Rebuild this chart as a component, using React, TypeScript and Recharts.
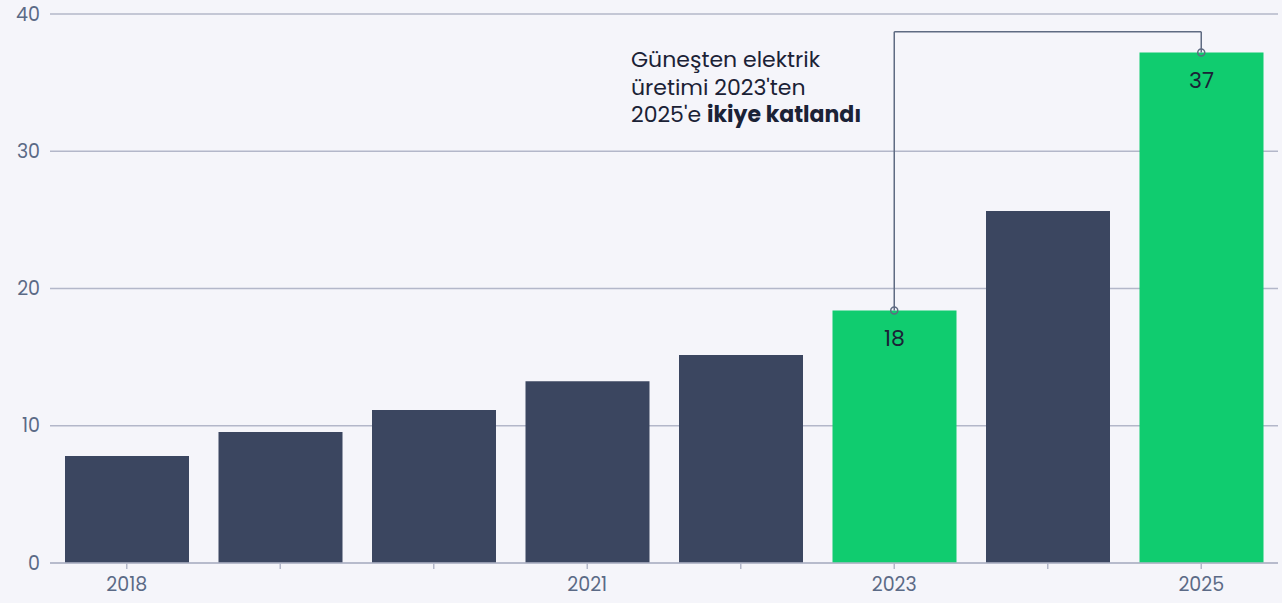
import React from 'react';
import {
  BarChart,
  Bar,
  XAxis,
  YAxis,
  CartesianGrid,
  Cell,
  LabelList,
  ReferenceLine,
  ReferenceDot,
} from 'recharts';

const years = ['2018', '2019', '2020', '2021', '2022', '2023', '2024', '2025'];
const solarTwh = [7.8, 9.55, 11.15, 13.25, 15.15, 18.4, 25.65, 37.2];
const shownYears = ['2018', '2021', '2023', '2025'];
const highlighted = ['2023', '2025'];
const yTicks = [0, 10, 20, 30, 40];
const bracketTop = 38.7;

const data = years.map((year, i) => ({ year, value: solarTwh[i] }));

const DARK = '#3b4660';
const GREEN = '#10cc6f';
const GRID = '#b3b7c9';
const TICK = '#5b6a86';
const LINE = '#5f6b82';
const BG = '#f5f5fa';
const FONT = 'Poppins, Inter, "Noto Sans", sans-serif';

const noteLine: React.CSSProperties = { height: 22, lineHeight: '22px', marginBottom: 5.5, whiteSpace: 'nowrap' };

const App: React.FC = () => {
  return (
    <div
      style={{
        position: 'absolute',
        left: 0,
        top: 0,
        width: 1282,
        height: 603,
        background: BG,
        fontFamily: FONT,
      }}
    >
      <BarChart
        width={1282}
        height={603}
        data={data}
        margin={{ top: 14, right: 4, left: 0, bottom: 0 }}
        barCategoryGap={15}
      >
        <CartesianGrid vertical={false} stroke={GRID} strokeWidth={1.5} />
        <XAxis
          dataKey="year"
          height={40}
          stroke={GRID}
          strokeWidth={1.5}
          tickSize={6}
          tickMargin={9}
          tick={{ fill: TICK, fontSize: 19, fontFamily: FONT }}
          tickFormatter={(v: string) => (shownYears.includes(v) ? v : '')}
          interval={0}
        />
        <YAxis
          width={50}
          domain={[0, 40]}
          ticks={yTicks}
          axisLine={false}
          tickLine={false}
          tickMargin={4}
          tick={{ fill: TICK, fontSize: 19, fontFamily: FONT }}
        />
        <Bar dataKey="value" isAnimationActive={false}>
          {data.map((d) => (
            <Cell key={d.year} fill={highlighted.includes(d.year) ? GREEN : DARK} />
          ))}
          <LabelList
            dataKey="value"
            position="insideTop"
            offset={20}
            fill="#1b2236"
            fontSize={22}
            fontFamily={FONT}
            formatter={(v: any) => {
              const n = Number(v);
              return n === solarTwh[5] || n === solarTwh[7] ? String(Math.round(n)) : '';
            }}
          />
        </Bar>
        <ReferenceLine
          segment={[{ x: '2023', y: solarTwh[5] }, { x: '2023', y: bracketTop }]}
          stroke={LINE}
          strokeWidth={1.5}
        />
        <ReferenceLine
          segment={[{ x: '2023', y: bracketTop }, { x: '2025', y: bracketTop }]}
          stroke={LINE}
          strokeWidth={1.5}
        />
        <ReferenceLine
          segment={[{ x: '2025', y: bracketTop }, { x: '2025', y: solarTwh[7] }]}
          stroke={LINE}
          strokeWidth={1.5}
        />
        <ReferenceDot x="2023" y={solarTwh[5]} r={3.5} fill="none" stroke={LINE} strokeWidth={1.5} />
        <ReferenceDot x="2025" y={solarTwh[7]} r={3.5} fill="none" stroke={LINE} strokeWidth={1.5} />
      </BarChart>
      <div
        style={{
          position: 'absolute',
          left: 631,
          top: 49,
          fontSize: 22,
          color: '#1b2236',
          fontFamily: FONT,
        }}
      >
        <div style={noteLine}>Güneşten elektrik</div>
        <div style={noteLine}>üretimi 2023'ten</div>
        <div style={noteLine}>
          2025'e <b>ikiye katlandı</b>
        </div>
      </div>
    </div>
  );
};

export default App;
